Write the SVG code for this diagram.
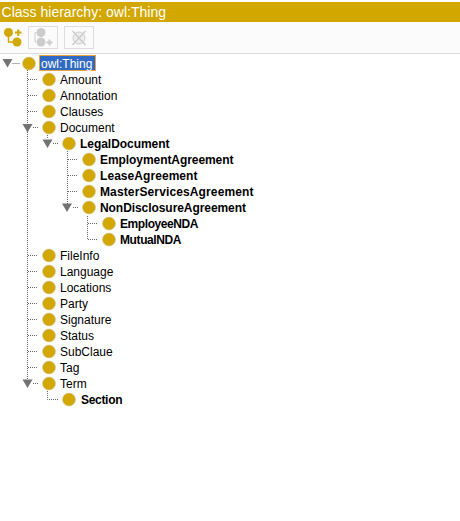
<svg xmlns="http://www.w3.org/2000/svg" width="460" height="521" viewBox="0 0 460 521">
<style>
text{font-family:"Liberation Sans",Arial,sans-serif;font-size:12px;fill:#000}
.b{font-weight:bold}
.d{fill:#d2a700;stroke:#c9c2a8;stroke-width:.6}
.l{stroke:#666;stroke-width:1;stroke-dasharray:1 1;fill:none}
.t{fill:#737373}
.btn{fill:#fbfbfb;stroke:#ddd;stroke-width:1}
</style>
<rect width="460" height="521" fill="#fff"/>
<g id="header"><rect y="2" width="460" height="20" fill="#d2a700"/><text x="1.500" y="17" textLength="164.500" style="font-size:14px;fill:#fff">Class hierarchy: owl:Thing</text></g>
<g id="toolbar"><rect y="22" width="460" height="32" fill="#fbfbfb"/><line x1="0" y1="53.500" x2="460" y2="53.500" stroke="#ddd"/>
<g id="btn-add-sub"><circle cx="8.500" cy="32.500" r="4.500" fill="#d2a700"/><circle cx="17" cy="42" r="4.500" fill="#d2a700"/><path d="M8.500 37v5h5" fill="none" stroke="#d2a700" stroke-width="1.500"/><path d="M15 32.500h6.500M18.250 29.500v6.500" stroke="#d2a700" stroke-width="2"/></g>
<g id="btn-add-sib"><rect x="28.500" y="26.500" width="29" height="22" class="btn"/><circle cx="41" cy="32.500" r="4.500" fill="#ccc"/><circle cx="41" cy="42" r="4.500" fill="#ccc"/><path d="M36 32.500h-1v9.500h1" fill="none" stroke="#ccc"/><path d="M46.500 42.500h6M49.500 39.500v6" stroke="#ccc" stroke-width="2"/></g>
<g id="btn-delete"><rect x="64.500" y="26.500" width="29" height="22" class="btn"/><circle cx="79" cy="38" r="6" fill="#eee" stroke="#ccc"/><path d="M72.500 31l13 14M85.500 31l-13 14" stroke="#ccc" stroke-width="1.500"/></g>
</g>
<g id="connectors">
<path class="l" d="M12.500 63.500h8M27.500 70v310M28 79.500h10M28 95.500h10M28 111.500h10M33 127.500h6M47.500 135v4M53 143.500h6M67.500 151v53M68 159.500h10M68 175.500h10M68 191.500h10M73 207.500h6M87.500 216v24M88 223.500h10M88 239.500h10M28 255.500h10M28 271.500h10M28 287.500h10M28 303.500h10M28 319.500h10M28 335.500h10M28 351.500h10M28 367.500h10M33 383.500h6M47.500 391v8.500h11"/>
<path class="t" d="M2.500 59h10l-5 8.500zM22.500 124h10l-5 8.500zM42.500 139.500h10l-5 8.500zM62 203.500h10l-5 8.500zM22.500 379.500h10l-5 8.500z"/>
</g>
<g id="owl-Thing"><rect x="39.500" y="55.500" width="56" height="15" fill="#316ac5" stroke="#e8a33d"/><circle cx="29" cy="63.500" r="6.500" class="d"/><text x="41" y="68" style="fill:#fff">owl:Thing</text></g>
<g id="Amount"><circle cx="49" cy="79.500" r="6.500" class="d"/><text x="60" y="84">Amount</text></g>
<g id="Annotation"><circle cx="49" cy="95.500" r="6.500" class="d"/><text x="60" y="100">Annotation</text></g>
<g id="Clauses"><circle cx="49" cy="111.500" r="6.500" class="d"/><text x="60" y="116">Clauses</text></g>
<g id="Document"><circle cx="49" cy="127.500" r="6.500" class="d"/><text x="60" y="132">Document</text></g>
<g id="LegalDocument"><circle cx="69" cy="143.500" r="6.500" class="d"/><text class="b" x="80" y="148" textLength="89.500">LegalDocument</text></g>
<g id="EmploymentAgreement"><circle cx="89" cy="159.500" r="6.500" class="d"/><text class="b" x="100" y="164" textLength="133.500">EmploymentAgreement</text></g>
<g id="LeaseAgreement"><circle cx="89" cy="175.500" r="6.500" class="d"/><text class="b" x="100" y="180" textLength="97.500">LeaseAgreement</text></g>
<g id="MasterServicesAgreement"><circle cx="89" cy="191.500" r="6.500" class="d"/><text class="b" x="100" y="196" textLength="153.500">MasterServicesAgreement</text></g>
<g id="NonDisclosureAgreement"><circle cx="89" cy="207.500" r="6.500" class="d"/><text class="b" x="100" y="212" textLength="146">NonDisclosureAgreement</text></g>
<g id="EmployeeNDA"><circle cx="109" cy="223.500" r="6.500" class="d"/><text class="b" x="120" y="228" textLength="78.500">EmployeeNDA</text></g>
<g id="MutualNDA"><circle cx="109" cy="239.500" r="6.500" class="d"/><text class="b" x="120" y="244" textLength="61.500">MutualNDA</text></g>
<g id="FileInfo"><circle cx="49" cy="255.500" r="6.500" class="d"/><text x="60" y="260">FileInfo</text></g>
<g id="Language"><circle cx="49" cy="271.500" r="6.500" class="d"/><text x="60" y="276">Language</text></g>
<g id="Locations"><circle cx="49" cy="287.500" r="6.500" class="d"/><text x="60" y="292">Locations</text></g>
<g id="Party"><circle cx="49" cy="303.500" r="6.500" class="d"/><text x="60" y="308">Party</text></g>
<g id="Signature"><circle cx="49" cy="319.500" r="6.500" class="d"/><text x="60" y="324">Signature</text></g>
<g id="Status"><circle cx="49" cy="335.500" r="6.500" class="d"/><text x="60" y="340">Status</text></g>
<g id="SubClaue"><circle cx="49" cy="351.500" r="6.500" class="d"/><text x="60" y="356">SubClaue</text></g>
<g id="Tag"><circle cx="49" cy="367.500" r="6.500" class="d"/><text x="60" y="372">Tag</text></g>
<g id="Term"><circle cx="49" cy="383.500" r="6.500" class="d"/><text x="60" y="388">Term</text></g>
<g id="Section"><circle cx="69" cy="399.500" r="6.500" class="d"/><text class="b" x="81" y="404" textLength="41.500">Section</text></g>
</svg>
